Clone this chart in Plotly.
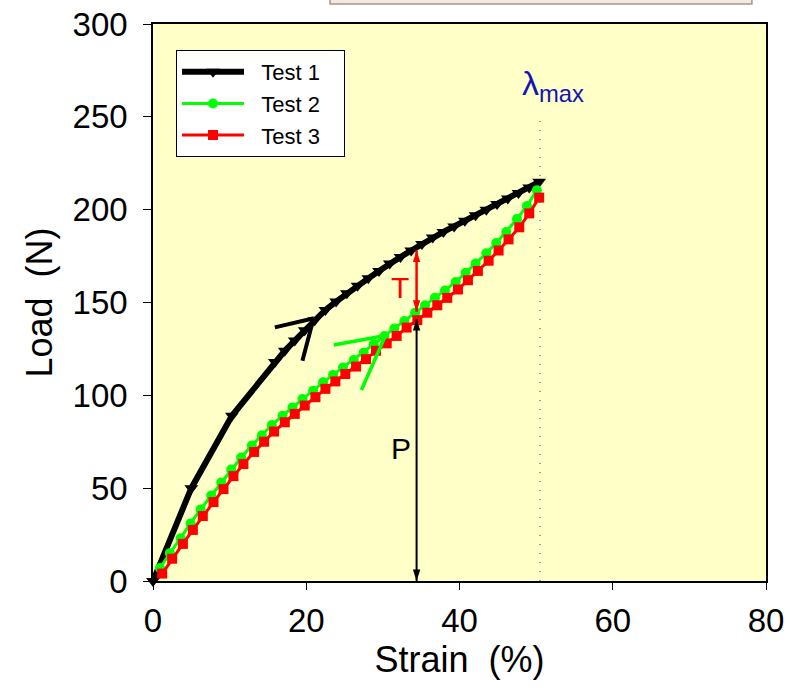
import plotly.graph_objects as go

# ---------------- data ----------------
strain1 = [0, 5.0, 10.3, 15.9, 17.2, 18.5, 19.8, 21.1, 22.5, 23.9, 25.3, 26.7, 28.1, 29.5,
           30.9, 32.3, 33.7, 35.1, 36.5, 37.9, 39.3, 40.7, 42.1, 43.5, 44.9, 46.3, 47.7, 49.1, 50.4]
load1 = [0, 50, 89, 118, 124, 129.5, 135, 140.5, 146, 150.5, 155, 159, 163, 167,
         171, 174.5, 178, 181.5, 185, 188, 191, 194, 197, 200, 203, 206, 209, 212, 215]

strain2 = [0.9, 2.2, 3.6, 4.9, 6.2, 7.6, 8.9, 10.2, 11.5, 12.9, 14.2, 15.5, 16.9, 18.2, 19.5,
           20.9, 22.2, 23.5, 24.8, 26.2, 27.5, 28.8, 30.2, 31.5, 32.8, 34.2, 35.5, 36.8, 38.1,
           39.5, 40.8, 42.1, 43.5, 44.8, 46.1, 47.5, 48.8, 50.1]
load2 = [7, 15, 23, 31, 38.5, 46, 53, 60, 66.5, 73, 78.5, 84, 89, 93.5, 98,
         102.5, 107, 111, 115, 119, 123, 127.5, 132, 136, 140, 144.5, 148.5, 152.5, 156.5,
         161, 166, 171, 176.5, 182, 188, 195, 202, 210.5]

strain3 = [1.2, 2.5, 3.9, 5.2, 6.5, 7.9, 9.2, 10.5, 11.8, 13.2, 14.5, 15.8, 17.2, 18.5, 19.8,
           21.2, 22.5, 23.8, 25.1, 26.5, 27.8, 29.1, 30.5, 31.8, 33.1, 34.5, 35.8, 37.1, 38.4,
           39.8, 41.1, 42.4, 43.8, 45.1, 46.4, 47.8, 49.1, 50.4]
load3 = [4, 12, 20, 27.5, 35, 42.5, 49.5, 56.5, 63, 69.5, 75, 80.5, 85.5, 90, 94.5,
         99, 103.5, 107.5, 111.5, 115.5, 119.5, 124, 128, 132, 136.5, 140.5, 144.5, 148.5, 152.5,
         157, 162, 167, 172.5, 178, 184, 190.5, 198, 206.5]

# tangent construction lines
tan1a_x, tan1a_y = [15.9, 21.0], [136.6, 141.5]
tan1b_x, tan1b_y = [19.5, 20.9], [118.6, 140.6]
tan2a_x, tan2a_y = [23.6, 30.0], [127.1, 132.0]
tan2b_x, tan2b_y = [27.2, 30.4], [102.9, 132.8]

# annotation values
arrow_strain = 34.4
P_top = 141
T_bottom, T_top = 145, 178
lambda_max = 50.5
lambda_top = 249

x_ticks = [0, 20, 40, 60, 80]
y_ticks = [0, 50, 100, 150, 200, 250, 300]

FONT = "Arial, Liberation Sans, Helvetica, sans-serif"
NB = "\u00a0"

fig = go.Figure()

# lambda max dotted line
fig.add_trace(go.Scatter(x=[lambda_max, lambda_max], y=[0, lambda_top], mode="lines",
                         line=dict(color="#3333cc", width=1, dash="1px,8px"),
                         showlegend=False, hoverinfo="skip"))

fig.add_trace(go.Scatter(x=strain1, y=load1, mode="lines+markers",
                         name=NB * 2 + "Test 1" + NB * 3,
                         line=dict(color="black", width=6),
                         marker=dict(symbol="triangle-down", size=12, color="black"),
                         cliponaxis=False))
fig.add_trace(go.Scatter(x=strain2, y=load2, mode="lines+markers",
                         name=NB * 2 + "Test 2" + NB * 3,
                         line=dict(color="#00ff00", width=3),
                         marker=dict(symbol="circle", size=10, color="#00ff00"),
                         cliponaxis=False))
fig.add_trace(go.Scatter(x=strain3, y=load3, mode="lines+markers",
                         name=NB * 2 + "Test 3" + NB * 3,
                         line=dict(color="#ff0000", width=3),
                         marker=dict(symbol="square", size=10, color="#ff0000"),
                         cliponaxis=False))

for xs, ys, c, w in [(tan1a_x, tan1a_y, "black", 4), (tan1b_x, tan1b_y, "black", 4),
                     (tan2a_x, tan2a_y, "#00ff00", 3.5), (tan2b_x, tan2b_y, "#00ff00", 3.5)]:
    fig.add_trace(go.Scatter(x=xs, y=ys, mode="lines", line=dict(color=c, width=w),
                             showlegend=False, hoverinfo="skip"))

# double-headed arrows (T and P) as line traces with arrow markers at both ends
for y0, y1, c, w in [(T_bottom, T_top, "#ff0000", 2.5), (0, P_top, "black", 2)]:
    fig.add_trace(go.Scatter(x=[arrow_strain, arrow_strain], y=[y0, y1], mode="lines+markers",
                             line=dict(color=c, width=w),
                             marker=dict(symbol="arrow", size=12, color=c, angle=[180, 0],
                                         standoff=0),
                             showlegend=False, hoverinfo="skip", cliponaxis=False))

annotations = [
    dict(x=32.2, y=158, xref="x", yref="y", text="T", showarrow=False,
         font=dict(family=FONT, size=30, color="#ff0000")),
    dict(x=32.3, y=71.5, xref="x", yref="y", text="P", showarrow=False,
         font=dict(family=FONT, size=30, color="black")),
    dict(x=52.2, y=267, xref="x", yref="y", text="λ<sub>max</sub>", showarrow=False,
         font=dict(family=FONT, size=34, color="#1414b4")),
]

shapes = [
    # clipped title box at the top
    dict(type="rect", xref="paper", yref="paper", x0=0.2887, x1=0.977, y0=1.0359, y1=1.08,
         fillcolor="#f6e8dc", line=dict(color="#9a9a9a", width=1.5), layer="above"),
]

fig.update_layout(
    width=799, height=698,
    margin=dict(l=153, r=33, t=24, b=117, autoexpand=False),
    paper_bgcolor="white",
    plot_bgcolor="#ffffc8",
    font=dict(family=FONT, color="black"),
    showlegend=True,
    legend=dict(x=0.0375, y=0.9533, xanchor="left", yanchor="top",
                bgcolor="white", bordercolor="black", borderwidth=1,
                font=dict(family=FONT, size=22, color="black"),
                itemwidth=62, tracegroupgap=0),
    annotations=annotations,
    shapes=shapes,
    xaxis=dict(range=[0, 80], tickvals=x_ticks, ticks="outside", ticklen=7, tickwidth=1,
               tickcolor="black", showline=True, linecolor="black", linewidth=1.5,
               mirror=True, showgrid=False, zeroline=False, automargin=False,
               tickfont=dict(family=FONT, size=33), ticklabelstandoff=3,
               title=dict(text="Strain" + NB * 2 + "(%)", font=dict(family=FONT, size=36),
                          standoff=0)),
    yaxis=dict(range=[0, 300], tickvals=y_ticks, ticks="outside", ticklen=8, tickwidth=1,
               tickcolor="black", showline=True, linecolor="black", linewidth=1.5,
               mirror=True, showgrid=False, zeroline=False, automargin=False,
               tickfont=dict(family=FONT, size=33), ticklabelstandoff=9,
               title=dict(text="Load" + NB * 2 + "(N)", font=dict(family=FONT, size=36),
                          standoff=9)),
)

fig.write_html("out.html")
